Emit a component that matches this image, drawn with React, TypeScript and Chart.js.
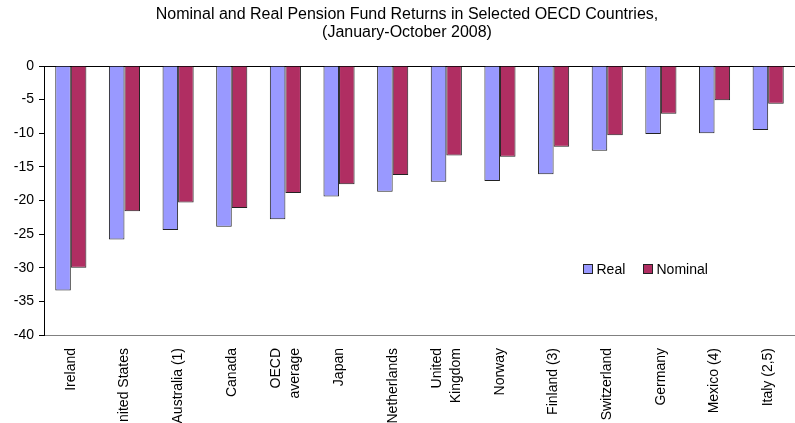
import React, { useEffect, useRef } from 'react';
import { Chart, registerables } from 'chart.js';

Chart.register(...registerables);

const categories: (string | string[])[] = [
  'Ireland',
  'United States',
  'Australia (1)',
  'Canada',
  ['OECD', 'average'],
  'Japan',
  'Netherlands',
  ['United', 'Kingdom'],
  'Norway',
  'Finland (3)',
  'Switzerland',
  'Germany',
  'Mexico (4)',
  'Italy (2,5)',
];

const realReturns = [-33.4, -25.8, -24.4, -23.9, -22.8, -19.4, -18.7, -17.2, -17.1, -16.1, -12.6, -10.1, -10.0, -9.5];
const nominalReturns = [-30.0, -21.6, -20.3, -21.1, -18.9, -17.6, -16.2, -13.3, -13.5, -12.0, -10.3, -7.1, -5.1, -5.6];

const seriesNames = ['Real', 'Nominal'];
const seriesColors = ['#9999FF', '#B02E62'];

const titleLines = [
  'Nominal and Real Pension Fund Returns in Selected OECD Countries,',
  '(January-October 2008)',
];

const yMin = -40;
const yMax = 0;
const yStep = 5;

const FONT = '"Liberation Sans", Arial, sans-serif';

export default function App() {
  const canvasRef = useRef<HTMLCanvasElement | null>(null);

  useEffect(() => {
    document.body.style.margin = '0';
    const canvas = canvasRef.current;
    if (!canvas) return;

    const titlePlugin = {
      id: 'customTitle',
      afterDraw(chart: any) {
        const ctx = chart.ctx;
        ctx.save();
        ctx.fillStyle = '#000';
        ctx.font = `16px ${FONT}`;
        ctx.textAlign = 'center';
        ctx.textBaseline = 'alphabetic';
        ctx.fillText(titleLines[0], 407, 19);
        ctx.fillText(titleLines[1], 407, 37);
        ctx.restore();
      },
    };

    // centre multi-line rotated category labels on their tick
    const centerLabelsPlugin = {
      id: 'centerMultiLineLabels',
      beforeDraw(chart: any) {
        const scale = chart.scales.x;
        if (!scale) return;
        const items = scale.getLabelItems(chart.chartArea);
        items.forEach((item: any) => {
          if (Array.isArray(item.label) && item.label.length > 1 && !item.__shifted) {
            const lh = item.font.lineHeight;
            item.options.translation[0] -= ((item.label.length - 1) * lh) / 2;
            item.__shifted = true;
          }
        });
      },
    };

    const legendPlugin = {
      id: 'customLegend',
      afterDraw(chart: any) {
        const ctx = chart.ctx;
        const ca = chart.chartArea;
        ctx.save();
        ctx.font = `14px ${FONT}`;
        ctx.textBaseline = 'alphabetic';
        ctx.textAlign = 'left';
        const boxY = ca.top + 198.5;
        const xs = [ca.left + 539.5, ca.left + 599.5];
        seriesNames.forEach((name, i) => {
          ctx.fillStyle = seriesColors[i];
          ctx.fillRect(xs[i], boxY, 9, 9);
          ctx.strokeStyle = '#222';
          ctx.lineWidth = 1;
          ctx.strokeRect(xs[i], boxY, 9, 9);
          ctx.fillStyle = '#000';
          ctx.fillText(name, xs[i] + 13, boxY + 9.5);
        });
        ctx.restore();
      },
    };

    const chart = new Chart(canvas, {
      type: 'bar',
      data: {
        labels: categories,
        datasets: [
          {
            label: seriesNames[0],
            data: realReturns,
            backgroundColor: seriesColors[0],
            borderColor: '#222',
            borderWidth: 1,
          },
          {
            label: seriesNames[1],
            data: nominalReturns,
            backgroundColor: seriesColors[1],
            borderColor: '#222',
            borderWidth: 1,
          },
        ],
      },
      options: {
        responsive: false,
        animation: false,
        layout: { padding: { top: 66, right: 0, left: 0, bottom: 0 } },
        plugins: {
          legend: { display: false },
          title: { display: false },
          tooltip: { enabled: false },
        },
        datasets: {
          bar: {
            categoryPercentage: 0.58,
            barPercentage: 1,
          },
        },
        scales: {
          x: {
            grid: { display: false },
            border: { display: true, color: '#808080', width: 1 },
            ticks: {
              autoSkip: false,
              minRotation: 90,
              maxRotation: 90,
              padding: 5,
              color: '#000',
              font: { family: FONT, size: 14, lineHeight: 1.35 },
            },
            afterFit: (scale: any) => {
              scale.height = 88;
            },
          },
          y: {
            min: yMin,
            max: yMax,
            z: 1,
            ticks: {
              stepSize: yStep,
              padding: 5,
              color: '#000',
              font: { family: FONT, size: 14 },
            },
            grid: {
              drawOnChartArea: true,
              color: (ctx: any) => (ctx.tick && ctx.tick.value === 0 ? '#000' : 'rgba(0,0,0,0)'),
              tickColor: '#000',
              tickLength: 5,
            },
            border: { display: true, color: '#000', width: 1 },
            afterFit: (scale: any) => {
              scale.width = 44;
            },
          },
        },
      },
      plugins: [titlePlugin, centerLabelsPlugin, legendPlugin],
    });

    return () => {
      chart.destroy();
    };
  }, []);

  return (
    <div style={{ width: 795, height: 423, position: 'relative', background: '#fff' }}>
      <canvas ref={canvasRef} width={795} height={423} style={{ display: 'block' }} />
    </div>
  );
}
